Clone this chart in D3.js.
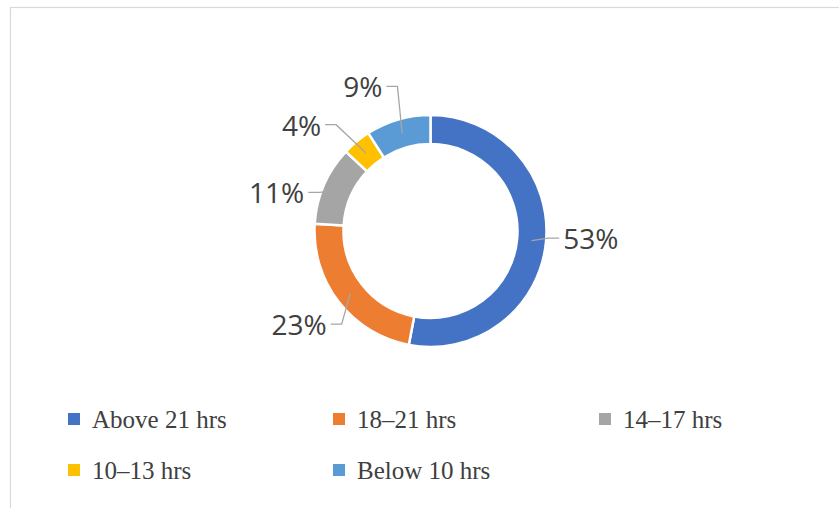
<!DOCTYPE html>
<html>
<head>
<meta charset="utf-8">
<script src="https://cdn.jsdelivr.net/npm/d3@7"></script>
<style>
  html, body { margin: 0; padding: 0; background: #ffffff; }
  svg { display: block; }
</style>
</head>
<body>
<svg id="chart" width="839" height="508"></svg>
<script>
// ---- data ----
const categories = ["Above 21 hrs", "18–21 hrs", "14–17 hrs", "10–13 hrs", "Below 10 hrs"];
const values = [53, 23, 11, 4, 9];
const labels = ["53%", "23%", "11%", "4%", "9%"];
const colors = ["#4472C4", "#ED7D31", "#A5A5A5", "#FFC000", "#5B9BD5"];

// ---- layout ----
const W = 839, H = 508;
const cx = 430.5, cy = 231;
const rOuter = 116, rInner = 87;
const svg = d3.select("#chart");

// frame
svg.append("rect")
  .attr("x", 10.5).attr("y", 7.5)
  .attr("width", 900).attr("height", 600)
  .attr("fill", "#ffffff")
  .attr("stroke", "#d9d9d9").attr("stroke-width", 1.2);

const pie = d3.pie().sort(null).value(d => d.v);
const data = categories.map((c, i) => ({ c, v: values[i], label: labels[i], color: colors[i] }));
const arcs = pie(data);
const arc = d3.arc().innerRadius(rInner).outerRadius(rOuter);
const midArc = d3.arc().innerRadius((rInner + rOuter) / 2).outerRadius((rInner + rOuter) / 2);

const g = svg.append("g").attr("transform", `translate(${cx},${cy})`);

g.selectAll("path.slice").data(arcs).join("path")
  .attr("class", "slice")
  .attr("d", arc)
  .attr("fill", d => d.data.color)
  .attr("stroke", "#ffffff")
  .attr("stroke-width", 2.5)
  .attr("stroke-linejoin", "miter");

// labels: radial placement plus Excel-like collision nudges
const rLabel = 160;
const nudges = [[1, -8], [-5, -5], [-7, 25], [-27, 17], [-23, 9]];
const labelG = g.append("g");
arcs.forEach((d, i) => {
  const a = (d.startAngle + d.endAngle) / 2;
  const lx = Math.sin(a) * rLabel + nudges[i][0];
  const ly = -Math.cos(a) * rLabel + nudges[i][1];
  const t = labelG.append("text")
    .attr("x", lx).attr("y", ly)
    .attr("text-anchor", "middle")
    .attr("dominant-baseline", "central")
    .attr("font-family", "'Open Sans', 'Noto Sans', sans-serif")
    .attr("font-size", 28)
    .attr("fill", "#404040")
    .text(d.data.label);
  const w = t.node().getComputedTextLength();
  const right = lx > 0 ? -1 : 1; // direction from label edge toward donut
  const ex = lx + right * (w / 2 + 4);
  const elbowX = ex + right * 11;
  const [px, py] = midArc.centroid(d);
  labelG.insert("polyline", "text")
    .attr("points", `${ex},${ly} ${elbowX},${ly} ${px},${py}`)
    .attr("fill", "none")
    .attr("stroke", "#A6A6A6")
    .attr("stroke-width", 1.3);
});

// legend
const legCols = [68, 333, 599];
const legRows = [419, 470];
const leg = svg.append("g");
data.forEach((d, i) => {
  const col = i % 3, row = Math.floor(i / 3);
  const x = legCols[col], y = legRows[row];
  leg.append("rect")
    .attr("x", x).attr("y", y - 6)
    .attr("width", 12).attr("height", 12)
    .attr("fill", d.color);
  leg.append("text")
    .attr("x", x + 24).attr("y", y)
    .attr("dominant-baseline", "central")
    .attr("font-family", "'Liberation Serif', 'DejaVu Serif', serif")
    .attr("font-size", 25)
    .attr("fill", "#404040")
    .text(d.c);
});
</script>
</body>
</html>
